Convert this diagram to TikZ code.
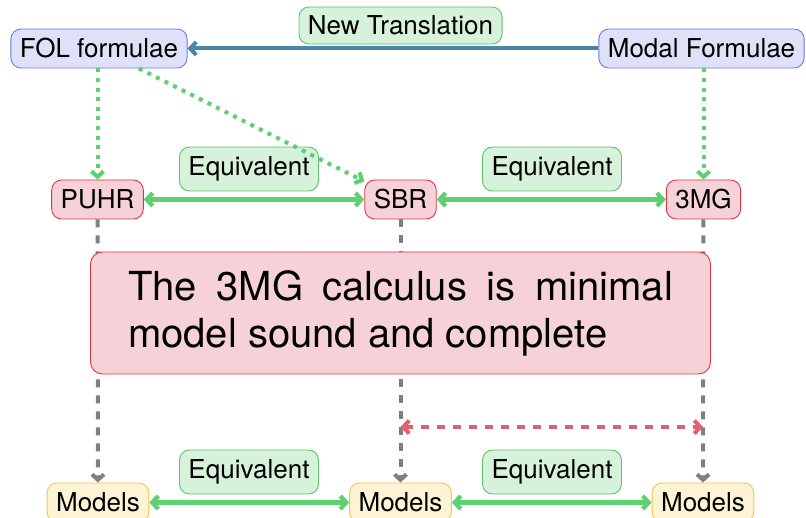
\documentclass[tikz,border=0pt]{standalone}
\usepackage{fontspec}
\setmainfont{TeX Gyre Heros}
\usetikzlibrary{arrows.meta}
\definecolor{bfill}{HTML}{DFE1F8}
\definecolor{bdraw}{HTML}{6B78E8}
\definecolor{rfill}{HTML}{F6D2D8}
\definecolor{rdraw}{HTML}{DC3545}
\definecolor{gfill}{HTML}{D6F2DA}
\definecolor{gdraw}{HTML}{5DC26A}
\definecolor{yfill}{HTML}{FFF3D5}
\definecolor{ydraw}{HTML}{F5C542}
\definecolor{garrow}{HTML}{5FCF6F}
\definecolor{barrow}{HTML}{4A86A6}
\definecolor{grarrow}{HTML}{808080}
\definecolor{rarrow}{HTML}{E06070}
\tolerance=9999
\tikzset{
  box/.style={rounded corners=10pt, line width=0.9pt, inner xsep=9pt, inner ysep=0pt,
    minimum height=39pt, font=\fontsize{26}{30}\selectfont},
  bluebox/.style={box, fill=bfill, draw=bdraw},
  redbox/.style={box, fill=rfill, draw=rdraw},
  yelbox/.style={box, fill=yfill, draw=ydraw},
  lbl/.style={box, fill=gfill, draw=gdraw, minimum height=44pt},
  blueln/.style={barrow, line width=4pt, -{Straight Barb[length=6pt,width=13pt]}},
  equiv/.style={garrow, line width=4.3pt, {Straight Barb[length=6pt,width=13pt]}-{Straight Barb[length=6pt,width=13pt]}},
  dotln/.style={garrow, line width=4pt, dash pattern=on 4pt off 5.6pt, -{Straight Barb[length=5.5pt,width=12pt]}},
  grayln/.style={grarrow, line width=4pt, dash pattern=on 8pt off 8pt, -{Straight Barb[length=5.5pt,width=12pt]}},
  redln/.style={rarrow, line width=4pt, dash pattern=on 8pt off 8pt, {Straight Barb[length=6pt,width=13pt]}-{Straight Barb[length=6pt,width=13pt]}},
  bigbox/.style={rounded corners=12pt, line width=0.9pt, fill=rfill, draw=rdraw,
    text width=545pt, align=justify, inner xsep=37.5pt, minimum height=122pt,
    font=\fontsize{40}{47}\selectfont}
}
\begin{document}
\begin{tikzpicture}[x=1pt,y=-1pt]
\useasboundingbox (0,0) rectangle (806,518);
\clip (0,0) rectangle (806,518);
% top row
\node[bluebox] (fol) at (99,48.5) {FOL formulae};
\node[bluebox] (modal) at (701.5,48.5) {Modal Formulae};
\node[lbl, minimum height=37pt] (nt) at (400.5,25.5) {New Translation};
% middle row
\node[redbox] (puhr) at (97.5,199.5) {PUHR};
\node[redbox] (sbr) at (400.5,199.5) {SBR};
\node[redbox] (mg) at (703.5,199.5) {3MG};
\node[lbl] (eq1) at (249,169) {Equivalent};
\node[lbl] (eq2) at (552,169) {Equivalent};
% bottom row
\node[yelbox] (m1) at (98,502.5) {Models};
\node[yelbox] (m2) at (400.5,502.5) {Models};
\node[yelbox] (m3) at (703,502.5) {Models};
\node[lbl] (eq3) at (249,472) {Equivalent};
\node[lbl] (eq4) at (552,472) {Equivalent};
% connectors
\draw[blueln] (modal) -- (fol);
\draw[dotln] (fol.south -| puhr) -- (puhr);
\draw[dotln] (fol) -- (sbr);
\draw[dotln] (modal.south -| mg) -- (mg);
\draw[equiv] (puhr) -- (sbr);
\draw[equiv] (sbr) -- (mg);
\draw[grayln] (puhr) -- (m1);
\draw[grayln] (sbr) -- (m2);
\draw[grayln] (mg) -- (m3);
\draw[equiv] (m1) -- (m2);
\draw[equiv] (m2) -- (m3);
% result box
\node[bigbox] (res) at (400.5,313) {The 3MG calculus is minimal model sound and complete};
\coordinate (ra) at (400.5,427);
\coordinate (rb) at (703,427);
\draw[redln] (ra) -- (rb);
\end{tikzpicture}
\end{document}
